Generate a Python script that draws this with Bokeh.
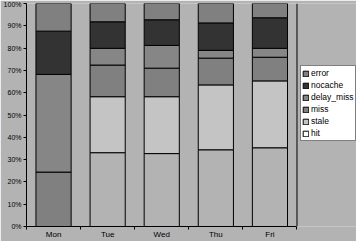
from bokeh.plotting import figure
from bokeh.models import (Legend, LegendItem, FixedTicker, NumeralTickFormatter,
                          Span, Range1d, ColumnDataSource)
from bokeh.embed import file_html
from bokeh.resources import INLINE

days = ["Mon", "Tue", "Wed", "Thu", "Fri"]
series = ["hit", "stale", "miss", "delay_miss", "nocache", "error"]
hit = [0.0, 33.1, 32.7, 34.4, 35.3]
stale = [0.0, 25.1, 25.5, 29.1, 30.0]
miss = [24.4, 14.2, 12.8, 12.0, 10.6]
delay_miss = [43.8, 7.5, 10.2, 3.5, 4.0]
nocache = [19.4, 11.9, 11.5, 12.3, 13.7]
error = [12.4, 8.2, 7.3, 8.7, 6.4]
y_ticks = [0, 0.1, 0.2, 0.3, 0.4, 0.5, 0.6, 0.7, 0.8, 0.9, 1.0]

colors = {"hit": "#ffffff", "stale": "#c4c4c4", "miss": "#808080",
          "delay_miss": "#868686", "nocache": "#333333", "error": "#808080"}
alphas = {"hit": 0.0}

vals = {"hit": hit, "stale": stale, "miss": miss, "delay_miss": delay_miss,
        "nocache": nocache, "error": error}
n = len(days)
xs = [i + 0.5 for i in range(n)]
totals = [sum(vals[s][i] for s in series) for i in range(n)]
data = {"x": xs}
for s in series:
    data[s] = [vals[s][i] / totals[i] for i in range(n)]
src = ColumnDataSource(data)

BG = "#b3b3b3"
# x range extends past the last category so that the legend sits inside the frame
p = figure(width=356, height=241, output_backend="svg", toolbar_location=None,
           x_range=Range1d(0, 6.1), y_range=Range1d(0, 1),
           min_border_left=23, min_border_right=0, min_border_top=3,
           min_border_bottom=11)
p.background_fill_color = BG
p.border_fill_color = BG
p.outline_line_color = None
p.grid.visible = False

renderers = p.vbar_stack(series, x="x", width=0.65, source=src,
                         fill_color=[colors[s] for s in series],
                         fill_alpha=[alphas.get(s, 1.0) for s in series],
                         line_color="black", line_width=1)

p.add_layout(Span(location=n, dimension="height", line_color="black", line_width=1))

# x axis: labels at centres, ticks at category boundaries
p.xaxis.bounds = (0, n)
p.xaxis.ticker = FixedTicker(ticks=xs, minor_ticks=list(range(n + 1)))
p.xaxis.major_label_overrides = {x: d for x, d in zip(xs, days)}
p.xaxis.major_tick_out = 0
p.xaxis.major_tick_in = 0
p.xaxis.minor_tick_out = 3
p.xaxis.minor_tick_in = 0
p.xaxis.major_label_standoff = 0
p.xaxis.major_label_text_font = "Liberation Sans"
p.xaxis.major_label_text_font_size = "8px"
p.xaxis.major_label_text_font_style = "normal"
p.xaxis.major_label_text_color = "black"
p.xaxis.axis_line_color = "black"

p.yaxis.ticker = FixedTicker(ticks=y_ticks)
p.yaxis.formatter = NumeralTickFormatter(format="0%")
p.yaxis.major_tick_out = 3
p.yaxis.major_tick_in = 0
p.yaxis.minor_tick_out = 0
p.yaxis.minor_tick_in = 0
p.yaxis.major_label_standoff = 2
p.yaxis.major_label_text_font = "Liberation Sans"
p.yaxis.major_label_text_font_size = "7px"
p.yaxis.major_label_text_color = "black"
p.yaxis.axis_line_color = "black"

items = [LegendItem(label=s, renderers=[r]) for s, r in zip(series, renderers)][::-1]
legend = Legend(items=items, location=(274, 85), orientation="vertical")
legend.label_text_font = "Liberation Sans"
legend.label_text_font_size = "8.5px"
legend.label_text_color = "black"
legend.label_height = 12
legend.glyph_height = 7
legend.glyph_width = 7
legend.label_standoff = 2
legend.spacing = 0
legend.padding = 1
legend.margin = 0
legend.border_line_color = "black"
legend.border_line_width = 1
legend.background_fill_color = "white"
legend.background_fill_alpha = 1.0
p.add_layout(legend, "center")

open("out.html", "w").write(file_html(p, INLINE))
